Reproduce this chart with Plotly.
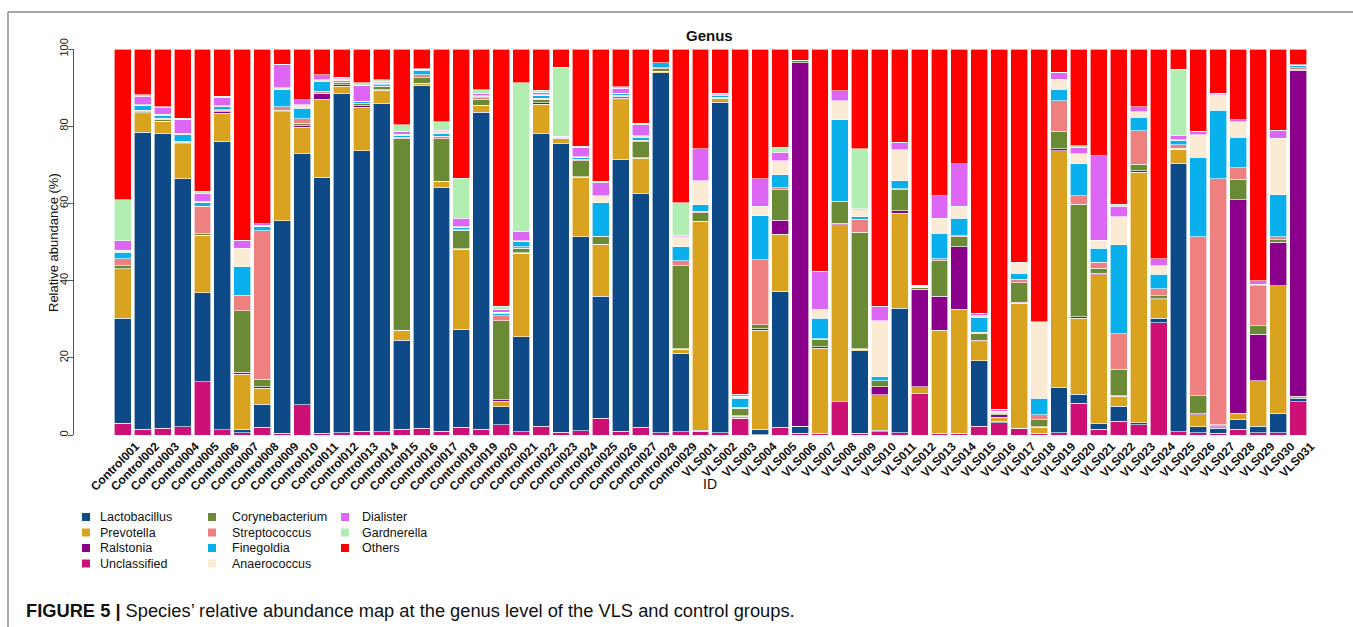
import plotly.graph_objects as go

# Sample IDs
samples = [f"Control{i:03d}" for i in range(1, 30)] + [f"VLS{i:03d}" for i in range(1, 32)]

# Relative abundance (%) per genus, one value per sample (stack order bottom -> top)
unclassified = [3.0, 1.5, 1.7, 2.2, 13.8, 1.3, 0.6, 2.0, 0.4, 7.8, 0.4, 0.6, 1.0, 0.8, 1.5,
                1.7, 1.0, 2.0, 1.5, 2.6, 0.9, 2.3, 0.7, 1.1, 4.3, 1.0, 2.0, 0.6, 0.9,
                1.0, 0.6, 4.3, 0.1, 2.0, 0.4, 0.4, 8.6, 0.4, 0.9, 0.6, 10.8, 0.4, 0.4, 2.3,
                3.2, 1.7, 0.4, 0.6, 8.2, 1.5, 3.5, 2.6, 29.1, 0.9, 0.6, 0.4, 1.5, 0.6, 0.6, 8.6]
lactobacillus = [27.2, 76.9, 76.3, 64.2, 23.1, 74.8, 0.9, 6.0, 55.1, 65.1, 66.4, 87.8, 72.6, 85.0, 23.0,
                 88.9, 63.2, 25.4, 82.1, 4.7, 24.6, 75.7, 74.9, 50.3, 31.6, 70.5, 60.5, 93.2, 20.3,
                 0.2, 85.6, 0.0, 1.4, 35.3, 1.8, 0.1, 0.0, 21.4, 0.3, 32.2, 0.0, 0.1, 0.1, 17.0,
                 0.2, 0.1, 0.1, 11.7, 2.4, 1.4, 4.0, 0.6, 1.2, 69.4, 1.6, 1.3, 2.4, 1.7, 5.0, 0.9]
prevotella = [12.6, 4.8, 3.2, 9.0, 14.8, 7.3, 14.3, 4.1, 28.2, 6.8, 20.2, 1.9, 11.3, 3.5, 2.6,
              0.4, 1.5, 20.7, 1.7, 1.5, 21.6, 7.7, 1.1, 15.4, 13.4, 15.4, 9.2, 0.4, 1.0,
              54.1, 1.1, 0.6, 25.7, 14.7, 0.1, 22.0, 45.9, 0.4, 9.2, 24.7, 1.7, 26.7, 32.1, 4.9,
              1.2, 32.3, 1.5, 61.3, 19.7, 38.6, 2.6, 64.9, 4.7, 3.6, 3.0, 0.5, 1.7, 11.8, 33.1, 0.6]
ralstonia = [0.3, 0.3, 0.1, 0.1, 0.1, 0.3, 0.4, 0.4, 0.1, 0.4, 1.4, 0.4, 0.4, 0.1, 0.1,
             0.1, 0.1, 0.1, 0.1, 0.3, 0.1, 0.4, 0.2, 0.1, 0.1, 0.3, 0.1, 0.1, 0.1,
             0.1, 0.0, 0.1, 0.3, 3.6, 94.1, 0.4, 0.4, 0.2, 2.1, 0.6, 25.3, 8.7, 16.2, 0.4,
             0.6, 0.3, 0.2, 0.5, 0.4, 0.4, 0.1, 0.4, 0.3, 0.1, 0.3, 0.2, 55.3, 12.0, 11.2, 84.4]
corynebacterium = [0.7, 0.3, 0.5, 0.4, 0.3, 0.3, 16.0, 2.0, 0.3, 0.7, 0.2, 0.7, 0.5, 0.9, 49.5,
                   1.4, 10.9, 4.8, 1.6, 20.5, 1.2, 0.9, 0.3, 4.1, 1.9, 0.5, 4.2, 0.6, 21.6,
                   2.2, 0.1, 1.9, 1.0, 7.9, 0.6, 1.9, 5.6, 30.1, 1.5, 5.4, 0.4, 9.2, 2.6, 1.8,
                   0.4, 5.1, 1.7, 4.6, 29.1, 1.3, 6.8, 1.7, 0.8, 0.3, 4.7, 0.3, 5.4, 2.2, 0.7, 0.2]
streptococcus = [1.8, 0.3, 0.2, 0.2, 7.1, 0.3, 4.0, 38.4, 1.0, 1.1, 0.4, 0.5, 0.2, 0.5, 0.4,
                 0.8, 0.7, 0.2, 0.4, 1.3, 0.4, 0.3, 0.2, 0.4, 0.2, 0.3, 0.4, 0.2, 1.3,
                 0.4, 0.1, 0.3, 16.9, 0.5, 0.1, 0.2, 0.1, 3.4, 0.1, 0.3, 0.1, 0.5, 0.2, 0.2,
                 0.3, 0.9, 1.3, 7.9, 2.2, 1.5, 9.2, 8.6, 1.8, 0.9, 41.1, 63.7, 3.0, 10.4, 0.7, 0.5]
finegoldia = [1.8, 1.2, 0.9, 1.7, 1.0, 0.8, 7.4, 1.1, 4.5, 2.8, 2.6, 0.2, 0.3, 0.2, 0.5,
              1.2, 0.8, 0.5, 0.3, 0.6, 1.3, 0.6, 0.0, 0.4, 8.7, 0.4, 0.7, 1.3, 3.6,
              1.6, 0.5, 2.3, 11.4, 3.4, 0.0, 5.3, 21.1, 0.7, 1.0, 2.1, 0.3, 6.7, 4.6, 3.9,
              0.1, 1.5, 4.3, 3.0, 8.3, 3.7, 23.1, 3.5, 3.8, 1.1, 20.7, 17.7, 7.8, 0.2, 10.9, 0.6]
anaerococcus = [0.5, 0.3, 0.2, 0.4, 0.4, 0.2, 4.8, 0.4, 0.3, 0.9, 0.4, 0.2, 0.2, 0.2, 0.3,
                0.2, 0.3, 0.2, 0.2, 0.3, 0.2, 0.2, 0.0, 0.3, 1.8, 0.2, 0.4, 0.0, 2.6,
                6.3, 0.1, 0.6, 2.4, 3.6, 0.0, 2.3, 4.9, 1.7, 14.5, 8.0, 0.0, 3.9, 3.0, 0.4,
                0.2, 2.8, 19.9, 2.6, 2.5, 2.0, 7.3, 1.5, 2.2, 0.2, 5.8, 4.1, 4.1, 0.2, 14.7, 0.0]
dialister = [2.4, 2.2, 1.7, 3.5, 1.9, 2.1, 2.0, 0.3, 6.2, 1.3, 1.3, 0.3, 4.1, 0.5, 0.6,
             0.1, 0.4, 2.3, 0.5, 0.6, 2.4, 0.6, 0.0, 2.3, 3.3, 1.2, 2.9, 0.0, 0.3,
             8.3, 0.4, 0.5, 7.2, 2.2, 0.0, 9.8, 2.6, 0.3, 3.8, 2.0, 0.1, 5.8, 11.1, 0.6,
             0.5, 0.0, 0.0, 1.8, 1.8, 21.9, 2.6, 1.2, 1.7, 1.0, 0.9, 0.4, 0.5, 0.8, 2.0, 0.1]
gardnerella = [10.6, 0.3, 0.3, 0.3, 0.6, 0.3, 0.0, 0.0, 0.0, 0.0, 0.0, 0.1, 0.6, 0.3, 1.9,
               0.1, 2.3, 10.3, 1.0, 0.9, 38.5, 0.6, 17.9, 0.4, 0.4, 0.4, 0.4, 0.0, 8.5,
               0.0, 0.0, 0.0, 0.0, 1.3, 0.0, 0.0, 0.0, 15.5, 0.0, 0.0, 0.1, 0.0, 0.0, 0.0,
               0.0, 0.0, 0.0, 0.0, 0.4, 0.0, 0.6, 0.0, 0.0, 17.3, 0.0, 0.0, 0.0, 0.0, 0.0, 0.0]
others = [39.1, 11.9, 14.9, 18.0, 36.9, 12.3, 49.6, 45.3, 3.9, 13.1, 6.7, 7.3, 8.8, 8.0, 19.6,
          5.1, 18.8, 33.5, 10.6, 66.7, 8.8, 10.7, 4.7, 25.2, 34.3, 9.8, 19.2, 3.6, 39.8,
          25.8, 11.5, 89.4, 33.6, 25.5, 2.9, 57.6, 10.8, 25.9, 66.6, 24.1, 61.2, 38.0, 29.7, 68.5,
          93.3, 55.3, 70.6, 6.0, 25.0, 27.7, 40.2, 15.0, 54.4, 5.2, 21.3, 11.4, 18.3, 60.1, 21.1, 4.1]

# Genus name, values, colour (bottom -> top)
stack = [
    ("Unclassified", unclassified, "#CD1076"),
    ("Lactobacillus", lactobacillus, "#0D4A87"),
    ("Prevotella", prevotella, "#D9A21F"),
    ("Ralstonia", ralstonia, "#8B008B"),
    ("Corynebacterium", corynebacterium, "#6B8A35"),
    ("Streptococcus", streptococcus, "#EE8080"),
    ("Finegoldia", finegoldia, "#0AB0EC"),
    ("Anaerococcus", anaerococcus, "#FBEBD5"),
    ("Dialister", dialister, "#DD66F5"),
    ("Gardnerella", gardnerella, "#B2EDB2"),
    ("Others", others, "#FF0000"),
]
colour = {name: c for name, _, c in stack}

# Legend layout: three columns
legend_columns = [
    ["Lactobacillus", "Prevotella", "Ralstonia", "Unclassified"],
    ["Corynebacterium", "Streptococcus", "Finegoldia", "Anaerococcus"],
    ["Dialister", "Gardnerella", "Others"],
]

FONT = "Arial, Liberation Sans, sans-serif"
W, H = 1353, 627
ML, MR, MT, MB = 74, 45, 49, 192
PW, PH = W - ML - MR, H - MT - MB


def px(x):
    return (x - ML) / PW


def py(y):
    return (H - MB - y) / PH


fig = go.Figure()
for name, vals, c in stack:
    fig.add_trace(go.Bar(
        x=samples, y=vals, name=name,
        marker=dict(color=c, line=dict(color="white", width=0.6)),
        showlegend=False,
    ))

fig.update_layout(
    width=W, height=H,
    margin=dict(l=ML, r=MR, t=MT, b=MB),
    barmode="stack", bargap=0.15,
    paper_bgcolor="white", plot_bgcolor="white",
    font=dict(family=FONT, color="#111"),
    xaxis=dict(
        type="category", range=[59.5 - 61.95, 59.5],
        showline=False, showgrid=False, zeroline=False, ticks="",
        tickangle=-45, ticklabelshift=13, ticklabelstandoff=1,
        tickfont=dict(size=12, family=FONT, color="#111", weight="bold"),
    ),
    yaxis=dict(
        range=[0, 100], tickvals=[0, 20, 40, 60, 80, 100],
        showline=True, linecolor="#555", linewidth=1,
        ticks="outside", ticklen=5, tickcolor="#555",
        showgrid=False, zeroline=False,
        tickangle=-90, ticklabelstandoff=-4, tickfont=dict(size=11, color="#222"),
    ),
)

ann = []
shapes = []


def label(text, x, y, size, **kw):
    d = dict(text=text, x=px(x), y=py(y), xref="paper", yref="paper",
             xanchor="center", yanchor="middle", showarrow=False,
             font=dict(size=size, family=FONT, color="#111"))
    d.update(kw)
    ann.append(d)


# Title and axis titles
label("<b>Genus</b>", 710, 35, 15)
label("Relative abundance (%)", 53, 243, 13, textangle=-90)
label("ID", 710, 484, 14)

# Legend (square + label)
col_sq = [82, 208, 341]
col_tx = [98, 230, 360]
row_y = [517, 532.5, 548, 563.5]
for ci, names in enumerate(legend_columns):
    for ri, name in enumerate(names):
        yc = row_y[ri]
        shapes.append(dict(type="rect", xref="paper", yref="paper",
                           x0=px(col_sq[ci]), x1=px(col_sq[ci] + 8),
                           y0=py(yc + 4), y1=py(yc - 4),
                           fillcolor=colour[name], line=dict(width=0)))
        label(name, col_tx[ci], yc, 12.5, xanchor="left")

# Caption
label("<b>FIGURE 5 |</b> Species’ relative abundance map at the genus level of the VLS and control groups.",
      24, 610, 18.3, xanchor="left")

# Frame lines
shapes.append(dict(type="line", xref="paper", yref="paper", x0=px(8), x1=px(W), y0=py(12), y1=py(12),
                   line=dict(color="#8a8a8a", width=1.5)))
shapes.append(dict(type="line", xref="paper", yref="paper", x0=px(8), x1=px(8), y0=py(12), y1=py(H),
                   line=dict(color="#8a8a8a", width=1.5)))

fig.update_layout(annotations=ann, shapes=shapes)
fig.write_html("out.html")
